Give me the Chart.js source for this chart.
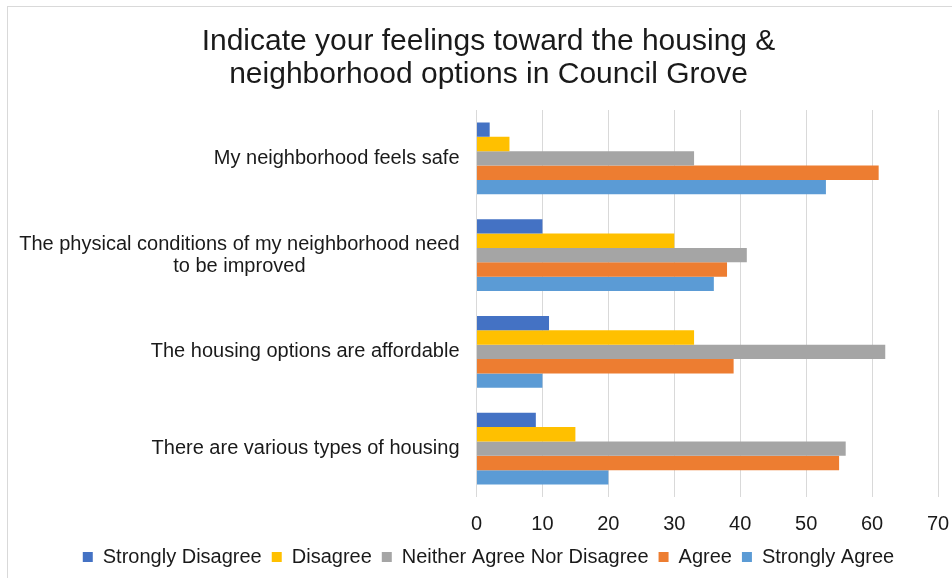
<!DOCTYPE html>
<html>
<head>
<meta charset="utf-8">
<script src="https://cdn.jsdelivr.net/npm/chart.js@4"></script>
<style>
  html, body { margin: 0; padding: 0; background: #fff; overflow: hidden; }
  #frame {
    position: absolute;
    left: 7px;
    top: 6px;
    width: 961px;
    height: 572px;
    border-left: 1px solid #d9d9d9;
    border-top: 1px solid #d9d9d9;
  }
</style>
</head>
<body>
<div id="frame"><canvas id="housingChart"></canvas></div>
<script>
const questions = [
    'My neighborhood feels safe',
    ['The physical conditions of my neighborhood need', 'to be improved'],
    'The housing options are affordable',
    'There are various types of housing'
];
const stronglyDisagree = [2, 10, 11, 9];
const disagree = [5, 30, 33, 15];
const neitherAgreeNorDisagree = [33, 41, 62, 56];
const agree = [61, 38, 39, 55];
const stronglyAgree = [53, 36, 10, 20];

const fontFamily = '"Liberation Sans", Arial, sans-serif';
const textColor = '#1a1a1a';

// y axis labels: block right-aligned to the axis, each line centred inside the block
const categoryLabels = {
    id: 'categoryLabels',
    afterDraw(chart) {
        const ctx = chart.ctx;
        const yScale = chart.scales.y;
        const right = chart.chartArea.left - 17;
        ctx.save();
        ctx.font = '20px ' + fontFamily;
        ctx.fillStyle = textColor;
        ctx.textAlign = 'center';
        ctx.textBaseline = 'middle';
        questions.forEach((q, i) => {
            const lines = [].concat(q);
            const width = Math.max(...lines.map(l => ctx.measureText(l).width));
            const cx = right - width / 2;
            const cy = yScale.getPixelForValue(i);
            lines.forEach((line, j) => {
                ctx.fillText(line, cx, cy + (j - (lines.length - 1) / 2) * 22);
            });
        });
        ctx.restore();
    }
};

const ctx = document.getElementById('housingChart').getContext('2d');

new Chart(ctx, {
    type: 'bar',
    data: {
        labels: questions,
        datasets: [
            { label: 'Strongly Disagree', data: stronglyDisagree, backgroundColor: '#4472C4' },
            { label: 'Disagree', data: disagree, backgroundColor: '#FFC000' },
            { label: 'Neither Agree Nor Disagree', data: neitherAgreeNorDisagree, backgroundColor: '#A5A5A5' },
            { label: 'Agree', data: agree, backgroundColor: '#ED7D31' },
            { label: 'Strongly Agree', data: stronglyAgree, backgroundColor: '#5B9BD5' }
        ]
    },
    options: {
        indexAxis: 'y',
        responsive: true,
        maintainAspectRatio: false,
        animation: false,
        datasets: {
            bar: {
                barPercentage: 1,
                categoryPercentage: 0.744,
                borderWidth: 0
            }
        },
        layout: {
            padding: { left: 0, right: 0, top: 0, bottom: 2 }
        },
        scales: {
            x: {
                min: 0,
                max: 70,
                ticks: {
                    stepSize: 10,
                    padding: 15,
                    color: textColor,
                    font: { family: fontFamily, size: 20 }
                },
                grid: {
                    color: '#d9d9d9',
                    drawTicks: false
                },
                border: { display: false },
                afterFit(scale) {
                    scale.height = 40;
                }
            },
            y: {
                ticks: { display: false },
                grid: { display: false },
                border: { display: false },
                afterFit(scale) {
                    scale.width = 468.5;
                }
            },
            // empty right-hand gutter so title and legend stay centred on the full width
            gutter: {
                type: 'category',
                position: 'right',
                ticks: { display: false },
                grid: { display: false },
                border: { display: false },
                afterFit(scale) {
                    scale.width = 31;
                }
            }
        },
        plugins: {
            title: {
                display: true,
                text: ['Indicate your feelings toward the housing &', 'neighborhood options in Council Grove'],
                color: textColor,
                font: { family: fontFamily, size: 30, weight: 'normal', lineHeight: 1.1 },
                padding: { top: 18, bottom: 19 }
            },
            legend: {
                position: 'bottom',
                labels: {
                    boxWidth: 10,
                    boxHeight: 10,
                    padding: 10,
                    color: textColor,
                    font: { family: fontFamily, size: 20 }
                }
            },
            tooltip: { enabled: false }
        }
    },
    plugins: [categoryLabels]
});
</script>
</body>
</html>
